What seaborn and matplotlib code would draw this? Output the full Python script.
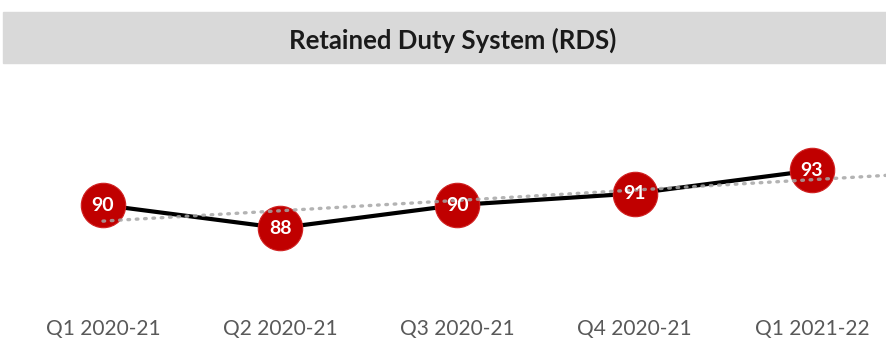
import numpy as np
import pandas as pd
import matplotlib
matplotlib.use("Agg")
import matplotlib.pyplot as plt
import seaborn as sns

categories = ["Q1 2020-21", "Q2 2020-21", "Q3 2020-21", "Q4 2020-21", "Q1 2021-22"]
values = [90, 88, 90, 91, 93]
title = "Retained Duty System (RDS)"

sns.set_theme(style="white")
plt.rcParams['font.family'] = ['Lato', 'DejaVu Sans']

fig = plt.figure(figsize=(8.86, 3.38), dpi=100)
ax = fig.add_axes([0.0, 0.11, 1.0, 0.65])

df = pd.DataFrame({"x": np.arange(len(categories)), "y": values})

sns.lineplot(data=df, x="x", y="y", ax=ax, color="black", linewidth=3.0, zorder=2)
sns.scatterplot(data=df, x="x", y="y", ax=ax, s=32**2, color="#c00000",
                edgecolor="#d02020", linewidth=0.8, zorder=3)

# linear trendline (forecast forward)
slope, intercept = np.polyfit(df["x"], df["y"], 1)
tx = np.array([0, 4.5])
ax.plot(tx, intercept + slope * tx, linestyle=(0, (0.5, 2.0)), color="#a6a6a6",
        linewidth=2.4, dash_capstyle="round", alpha=0.85, zorder=4)

for xi, yi in zip(df["x"], df["y"]):
    ax.text(xi, yi, str(yi), ha="center", va="center", color="white",
            fontsize=14, fontweight="bold", zorder=5)

ax.set_xlim(-0.581, 4.418)
ax.set_ylim(81.67, 100.77)
ax.set_xticks(df["x"])
ax.set_xticklabels(categories, color="#595959", fontsize=15)
ax.tick_params(axis="x", length=0, pad=13)
ax.set_yticks([])
ax.set_xlabel("")
ax.set_ylabel("")
for s in ax.spines.values():
    s.set_visible(False)

# title band
fig.patches.append(plt.Rectangle((3 / 886, 1 - 63 / 338), 1.0, 51 / 338,
                                 transform=fig.transFigure, color="#d9d9d9",
                                 zorder=0))
fig.text(453 / 886, 1 - 40 / 338, title, ha="center", va="center",
         fontsize=18.5, fontweight="bold", color="#1a1a1a")

fig.savefig("out.png", dpi=100)
